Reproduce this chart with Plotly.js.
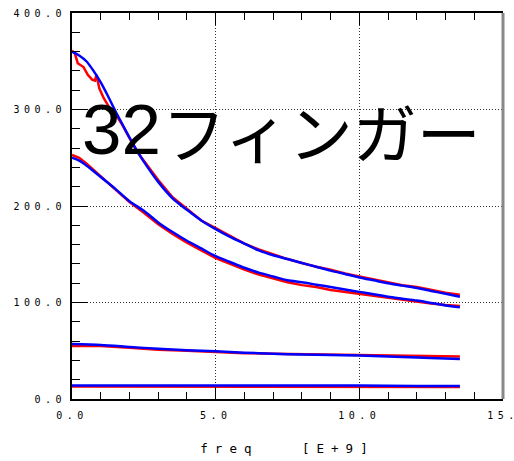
<!DOCTYPE html>
<html>
<head>
<meta charset="utf-8">
<script src="https://cdn.plot.ly/plotly-3.0.1.min.js"></script>
<style>
html,body{margin:0;padding:0;background:#fff;}
#chart{width:514px;height:461px;}
.xtick text,.ytick text{letter-spacing:4.5px;}
.g-xtitle text{letter-spacing:7px;}
</style>
</head>
<body>
<div id="chart"></div>
<script>
// Curve A (upper, high start)
const xA_meas = [0,0.1,0.2,0.4,0.55,0.7,0.8,0.85,0.95,1.1,1.3,1.5,1.75,2.0,2.25,2.5,3.0,3.5,4.0,4.5,5.0,5.5,6.0,6.5,7.0,7.5,8.0,8.5,9.0,9.5,10.0,10.5,11.0,11.5,12.0,12.5,13.0,13.5];
const yA_meas = [361,358,348,344,336,331,330,336,322,312,302,296,284,270,257,247,227,209,197,185,177,169,161,155,150,145,141,137,134,130,127,124,121,118,116,113,110,108];
const xA_model = [0,0.25,0.5,0.75,1.0,1.25,1.5,1.75,2.0,2.25,2.5,3.0,3.5,4.0,4.5,5.0,5.5,6.0,6.5,7.0,7.5,8.0,8.5,9.0,9.5,10.0,10.5,11.0,11.5,12.0,12.5,13.0,13.5];
const yA_model = [360,356,350,340,328,314,299,285,271,258,246,225,208,196,185,176,168,161,154,149,145,141,137,133,129.5,126,123,120,117.5,115,112,109,106];

// Curve B (second)
const xB = [0,0.25,0.5,1.0,1.5,2.0,2.5,3.0,3.5,4.0,4.5,5.0,5.5,6.0,6.5,7.0,7.5,8.0,8.5,9.0,9.5,10.0,10.5,11.0,11.5,12.0,12.5,13.0,13.5];
const yB_meas = [253,250,244,231,217,204,193,181,171,162,154,146,140,134,129,125,121,118,116,113,111,109,107,104.5,103,101,99,97.5,96.5];
const yB_model = [250,247,242,230,218,205,195,183,173,164,156,148,142,136,131,127,123,121,118.5,116,113.5,111,108.5,106,104,102,99.5,97,95];

// Curve C
const xC = [0,1,2,3,4,5,6,7,8,9,10,11,12,13,13.5];
const yC_meas = [55,55,53,51,50,48.5,47.5,47,46.5,46,45.5,45,44.5,44,44];
const yC_model = [57,56,54,52,50.5,49.5,48,47,46,45.5,45,44,43,42,41.5];

// Curve D
const xD = [0,2,4,6,8,10,12,13.5];
const yD_meas = [13,13,13,13,13,13,12.5,12.5];
const yD_model = [14,14,14,14,14,14,13.5,13.5];

const xTickVals = [0,5,10,15];
const xTickText = ['0.0','5.0','10.0','15.'];
const yTickVals = [0,100,200,300,400];
const yTickText = ['0.0','100.0','200.0','300.0','400.0'];

const RED = '#ff0000', BLUE = '#0000ff';
function tr(x, y, c, smooth){
  return {x:x, y:y, type:'scatter', mode:'lines',
    line:smooth ? {color:c, width:2.5, shape:'spline', smoothing:0.8} : {color:c, width:2.5},
    hoverinfo:'skip', showlegend:false};
}

const data = [
  tr(xA_meas, yA_meas, RED, false), tr(xB, yB_meas, RED, false), tr(xC, yC_meas, RED, false), tr(xD, yD_meas, RED, false),
  tr(xA_model, yA_model, BLUE, true), tr(xB, yB_model, BLUE, true), tr(xC, yC_model, BLUE, true), tr(xD, yD_model, BLUE, true)
];

const tickFont = {family:'DejaVu Sans Mono, monospace', size:10, color:'#000'};
const titleFont = {family:'DejaVu Sans Mono, monospace', size:12.5, color:'#000'};

const layout = {
  width:514, height:461,
  margin:{l:72, r:11, t:13, b:62, pad:0},
  paper_bgcolor:'#fff', plot_bgcolor:'#fff',
  showlegend:false,
  xaxis:{
    range:[0,15], tickmode:'array', tickvals:xTickVals, ticktext:xTickText,
    ticks:'inside', ticklen:12, tickwidth:1, tickcolor:'#000',
    showline:true, linecolor:'#000', linewidth:2, mirror:'ticks',
    showgrid:true, gridcolor:'#333', griddash:'1px,2px', gridwidth:1, zeroline:false,
    minor:{dtick:1, tick0:0, ticks:'inside', ticklen:7, tickwidth:1, tickcolor:'#000', showgrid:false},
    tickfont:tickFont, ticklabelstandoff:6, ticklabeloverflow:'allow',
    title:{text:'freq   [E+9]', font:titleFont, standoff:24}
  },
  yaxis:{
    range:[0,400], tickmode:'array', tickvals:yTickVals, ticktext:yTickText,
    ticks:'inside', ticklen:16, tickwidth:1, tickcolor:'#000',
    showline:true, linecolor:'#000', linewidth:2, mirror:false,
    showgrid:true, gridcolor:'#333', griddash:'1px,2px', gridwidth:1, zeroline:false,
    minor:{dtick:20, tick0:0, ticks:'inside', ticklen:8, tickwidth:1, tickcolor:'#000', showgrid:false},
    tickfont:tickFont, ticklabelstandoff:2
  },
  shapes:[
    {type:'line', xref:'paper', yref:'paper', x0:1, x1:1, y0:0, y1:1, line:{color:'#888', width:3}}
  ],
  annotations:[
    {xref:'paper', yref:'paper', x:0.018, y:0.697, xanchor:'left', yanchor:'middle', showarrow:false,
     text:'32', font:{family:'Liberation Sans, Arial, sans-serif', size:71, color:'#000'}},
    {xref:'paper', yref:'paper', x:0.205, y:0.697, xanchor:'left', yanchor:'middle', showarrow:false,
     text:'フィンガー', font:{family:'Noto Sans CJK JP, sans-serif', size:64, color:'#000'}}
  ]
};

Plotly.newPlot('chart', data, layout, {staticPlot:true, displayModeBar:false});
</script>
</body>
</html>
